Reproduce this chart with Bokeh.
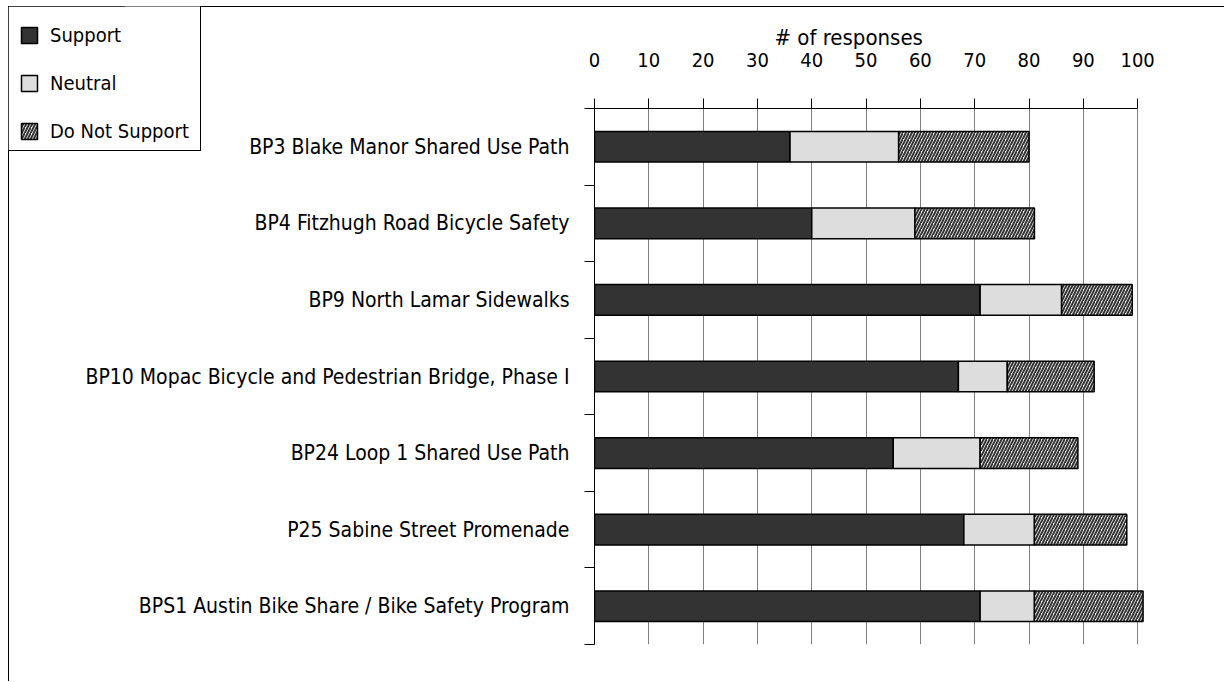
import numpy as np
from bokeh.plotting import figure
from bokeh.layouts import column
from bokeh.models import (ColumnDataSource, FixedTicker, Range1d, Legend, LegendItem, Title)
from bokeh.embed import file_html
from bokeh.resources import INLINE

# ---- data ----
categories = [
    "BP3 Blake Manor Shared Use Path",
    "BP4 Fitzhugh Road Bicycle Safety",
    "BP9 North Lamar Sidewalks",
    "BP10 Mopac Bicycle and Pedestrian Bridge, Phase I",
    "BP24 Loop 1 Shared Use Path",
    "P25 Sabine Street Promenade",
    "BPS1 Austin Bike Share / Bike Safety Program",
]
support = [36, 40, 71, 67, 55, 68, 71]
neutral = [20, 19, 15, 9, 16, 13, 10]
do_not_support = [24, 22, 13, 16, 18, 17, 20]
series_names = ["Support", "Neutral", "Do Not Support"]
x_ticks = [0, 10, 20, 30, 40, 50, 60, 70, 80, 90, 100]
x_title = "# of responses"

FONT = "DejaVu Sans Condensed, Roboto"

STYLES = [
    dict(fill_color="#333333", line_color="black", line_width=1.5),
    dict(fill_color="#dddddd", line_color="black", line_width=1.5),
    dict(fill_color="white", hatch_pattern="/", hatch_color="#333333",
         hatch_scale=6, hatch_weight=2, line_color="black", line_width=1.5),
]

n = len(categories)
ypos = np.arange(n) + 0.5
s = np.array(support, dtype=float)
ne = np.array(neutral, dtype=float)
d = np.array(do_not_support, dtype=float)
src = ColumnDataSource(dict(
    y=ypos,
    s_l=np.zeros(n), s_r=s,
    n_l=s, n_r=s + ne,
    d_l=s + ne, d_r=s + ne + d,
))
COLS = [("s_l", "s_r"), ("n_l", "n_r"), ("d_l", "d_r")]

p = figure(width=1216, height=675, output_backend="svg", toolbar_location=None,
           x_range=Range1d(0, 102), y_range=Range1d(n, 0),
           x_axis_location="above",
           min_border_left=585, min_border_top=101, min_border_bottom=38,
           min_border_right=77)
p.styles = {"margin-left": "8px", "margin-top": "6px",
            "border-top": "1px solid black", "border-left": "1px solid black"}
p.outline_line_color = None
p.background_fill_color = "white"
p.border_fill_color = "white"

for (l, r), st in zip(COLS, STYLES):
    p.hbar(y="y", left=l, right=r, height=0.4, source=src, **st)

# x axis (top)
xa = p.xaxis[0]
xa.ticker = FixedTicker(ticks=x_ticks, minor_ticks=[])
xa.bounds = (0, 100)
xa.axis_line_color = "black"
xa.major_tick_out = 10
xa.major_tick_in = 0
xa.major_tick_line_color = "black"
xa.major_label_standoff = 32
xa.major_label_text_font = FONT
xa.major_label_text_font_size = "20px"
xa.major_label_text_color = "black"

p.add_layout(Title(text=x_title, align="left", offset=180, standoff=0,
                   text_font=FONT, text_font_size="22px", text_font_style="normal",
                   text_color="black", vertical_align="bottom"), "above")

p.xgrid.ticker = FixedTicker(ticks=x_ticks)
p.xgrid.grid_line_color = "#808080"
p.xgrid.grid_line_width = 1
p.ygrid.grid_line_color = None

# y axis (left) with ticks at category boundaries, labels at centers
ya = p.yaxis[0]
ya.ticker = FixedTicker(ticks=list(ypos), minor_ticks=list(np.arange(n + 1)))
ya.major_label_overrides = {float(y): c for y, c in zip(ypos, categories)}
ya.major_tick_out = 0
ya.major_tick_in = 0
ya.minor_tick_out = 10
ya.minor_tick_in = 0
ya.minor_tick_line_color = "black"
ya.axis_line_color = "black"
ya.major_label_standoff = 15
ya.major_label_text_font = FONT
ya.major_label_text_font_size = "21px"
ya.major_label_text_color = "black"

# ---- legend, in a small overlaid figure at the top-left corner ----
# (its renderers use the same data but lie outside this small figure's view)
lg = figure(width=193, height=145, output_backend="svg", toolbar_location=None,
            min_border=0, x_range=Range1d(0, 1), y_range=Range1d(100, 101))
lg.axis.visible = False
lg.grid.visible = False
lg.outline_line_color = None
lg.background_fill_color = "white"
lg.border_fill_color = "white"
lg.styles = {"position": "absolute", "left": "8px", "top": "6px", "z-index": "5",
             "border-right": "1px solid black", "border-bottom": "1px solid black"}
items = []
for name, (l, r), st in zip(series_names, COLS, STYLES):
    rr = lg.hbar(y="y", left=l, right=r, height=0.4, source=src, **st)
    items.append(LegendItem(label=name, renderers=[rr]))
legend = Legend(items=items, location=(11, 8), margin=0, padding=11, spacing=24,
                glyph_width=20, glyph_height=20, label_standoff=11,
                label_text_font=FONT, label_text_font_size="20px",
                label_text_color="black",
                border_line_color=None,
                background_fill_color="white", background_fill_alpha=1)
lg.add_layout(legend, "center")

root = column(p, lg)
open("out.html", "w").write(file_html(root, INLINE))
